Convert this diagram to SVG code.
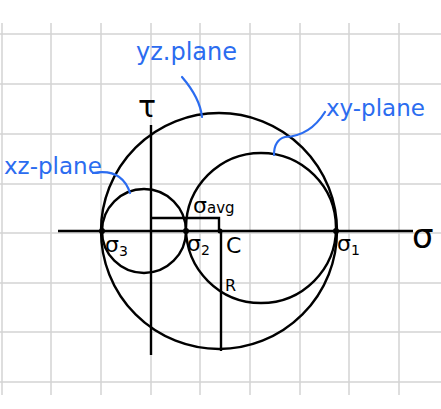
<svg xmlns="http://www.w3.org/2000/svg" width="441" height="409" viewBox="0 0 441 409">
<style>
.grid{stroke:#d4d4d4;stroke-width:1.5}
.ink{fill:none;stroke:#000;stroke-width:2.4}
.blue{fill:none;stroke:#2b6cf0;stroke-width:2.2;stroke-linecap:round}
.bt{fill:#2b6cf0;font-family:"DejaVu Sans",sans-serif;font-size:23px}
.kt{fill:#000;font-family:"DejaVu Sans",sans-serif;font-size:22px}
</style>
<rect width="441" height="409" fill="#fff"/>
<g id="grid">
<path class="grid" d="M2,23V395M51,23V395M101,23V395M151,23V395M200,23V395M250,23V395M300,23V395M349,23V395M399,23V395"/>
<path class="grid" d="M0,34H441M0,84H441M0,134H441M0,184H441M0,233H441M0,283H441M0,332H441M0,382H441"/>
</g>
<g id="axes">
<path class="ink" d="M58,231H413"/>
<path class="ink" d="M151,125V355"/>
</g>
<g id="yz-circle"><circle class="ink" cx="219" cy="231" r="118"/></g>
<g id="xz-circle"><circle class="ink" cx="144" cy="231" r="42"/></g>
<g id="xy-circle"><circle class="ink" cx="261" cy="228" r="75"/></g>
<g id="connectors">
<path class="ink" d="M151,218H219V231"/>
<path class="ink" d="M221,231V351"/>
<path class="blue" d="M182,77Q200,98 202,117"/>
<path class="blue" d="M325,112Q310,136 285,137Q274,140 274,155"/>
<path class="blue" d="M93,173Q122,168 130,193"/>
</g>
<g id="points" fill="#000">
<circle cx="102" cy="231" r="3"/>
<circle cx="186" cy="231" r="3"/>
<circle cx="220" cy="231" r="2.5"/>
<circle cx="336" cy="231" r="3"/>
</g>
<g id="labels">
<text class="bt" x="136" y="60" style="font-size:24px">yz.plane</text>
<text class="bt" x="326" y="116">xy-plane</text>
<text class="bt" x="4" y="174">xz-plane</text>
<text class="kt" x="138" y="117" style="font-size:30px">τ</text>
<text class="kt" x="412" y="248" style="font-size:34px">σ</text>
<text class="kt" x="193" y="213">σ<tspan style="font-size:15px">avg</tspan></text>
<text class="kt" x="105" y="252">σ<tspan style="font-size:14px" dy="4">3</tspan></text>
<text class="kt" x="187" y="251">σ<tspan style="font-size:14px" dy="4">2</tspan></text>
<text class="kt" x="226" y="253">C</text>
<text class="kt" x="337" y="251">σ<tspan style="font-size:14px" dy="4">1</tspan></text>
<text class="kt" x="225" y="291" style="font-size:16px">R</text>
</g>
</svg>
